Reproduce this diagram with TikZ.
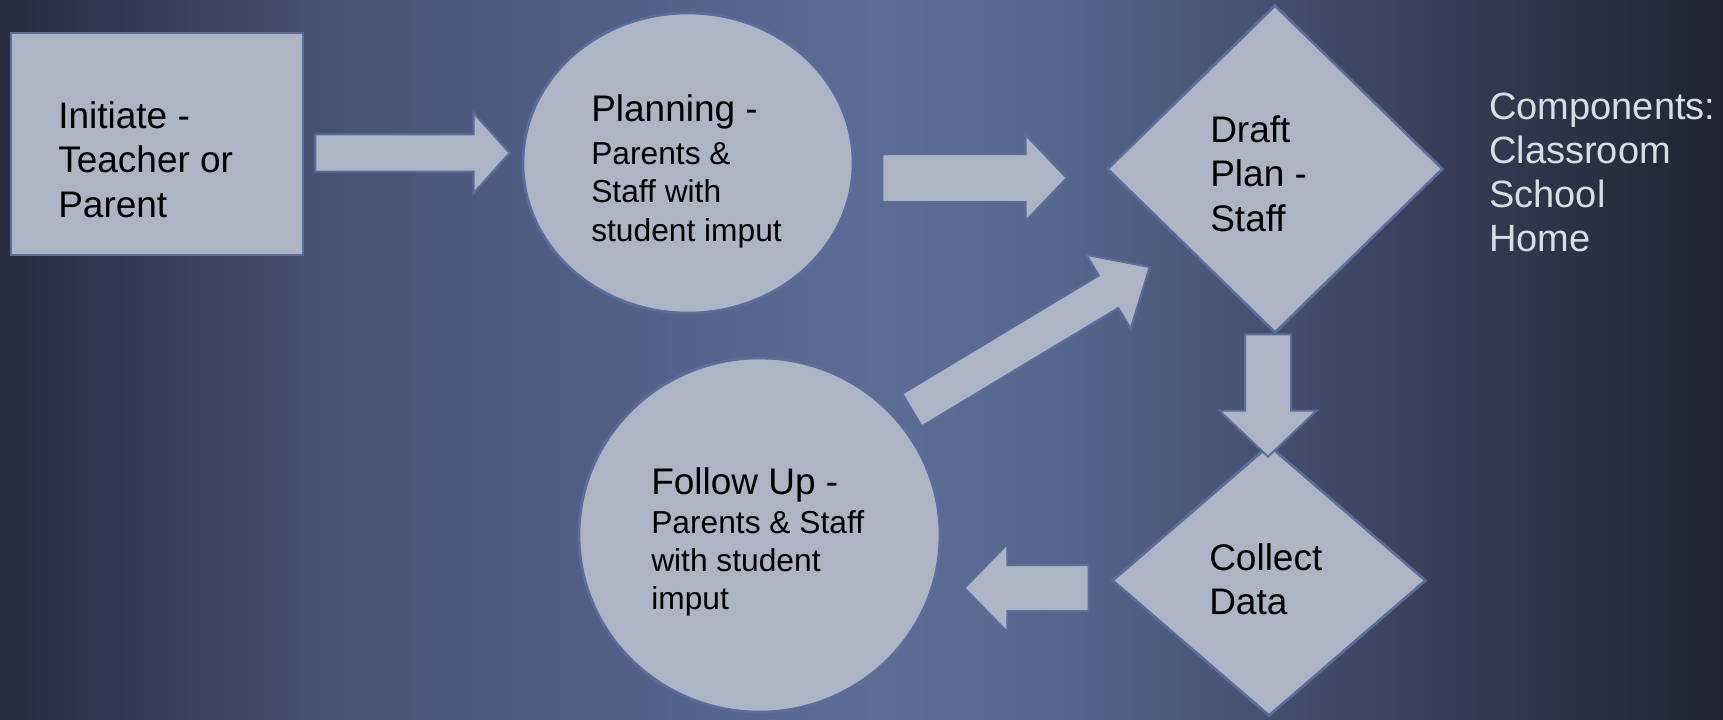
\documentclass[tikz,border=0pt]{standalone}
\usepackage{fontspec}
\setmainfont{Liberation Sans}
\usetikzlibrary{shapes.geometric}
\usetikzlibrary{calc}

\definecolor{bgedge}{RGB}{38,44,63}
\definecolor{bgleft}{RGB}{72,84,120}
\definecolor{bgcentre}{RGB}{92,108,149}
\definecolor{bgnear}{RGB}{86,102,142}
\definecolor{bgright}{RGB}{50,56,79}
\definecolor{bgfar}{RGB}{32,36,51}
\definecolor{shapefill}{RGB}{173,180,195}
\definecolor{shapeline}{RGB}{90,110,158}
\definecolor{notetext}{RGB}{217,221,228}

\pgfdeclarehorizontalshading{slidebg}{100bp}{color(0bp)=(bgedge); color(25bp)=(bgedge); color(35bp)=(bgleft); color(50.5bp)=(bgcentre); color(55.75bp)=(bgnear); color(68.5bp)=(bgright); color(75bp)=(bgfar); color(100bp)=(bgfar)}

\newcommand{\headfont}{\fontsize{27.75}{33.5}\selectfont}
\newcommand{\bodyfont}{\fontsize{23.8}{28.7}\selectfont}

% fat arrow from #1 to #2: shaft half width, head half width, head length
\newcommand{\blockarrow}[5]{%
  \coordinate (hb) at ($(#2)!#5!(#1)$);
  \draw [blockbody] ($(#1)!#3!90:(#2)$) -- ($(hb)!#3!-90:(#1)$) -- ($(hb)!#4!-90:(#1)$) -- (#2) -- ($(hb)!#4!90:(#1)$) -- ($(hb)!#3!90:(#1)$) -- ($(#1)!#3!-90:(#2)$) -- cycle ;
}

\begin{document}
\begin{tikzpicture}[x=0.75pt,y=0.75pt,yscale=-1,xscale=1,
  shapebox/.style={draw=shapeline, fill=shapefill, line width=2pt, inner sep=0pt},
  blockbody/.style={draw=shapeline, fill=shapefill, line width=1.5pt, line join=miter},
  bigtext/.style={anchor=north west, inner sep=0.75pt, align=left, font=\headfont},
  smalltext/.style={anchor=north west, inner sep=0.75pt, align=left, font=\bodyfont}]
\useasboundingbox (0,0) rectangle (1723,719);

%Background
\shade [shading=slidebg] (0,0) rectangle (1723,719);

%Shape: Rectangle
\node [shapebox, rectangle, minimum width=219pt, minimum height=166.5pt] (init) at (157,144) {};
%Shape: Ellipse
\node [shapebox, ellipse, minimum width=247.5pt, minimum height=225pt] (plan) at (688,163) {};
%Shape: Diamond
\node [shapebox, diamond, minimum width=252pt, minimum height=246pt] (draft) at (1275,169) {};
%Shape: Diamond
\node [shapebox, diamond, minimum width=235.5pt, minimum height=203.25pt] (collect) at (1269,580.5) {};
%Shape: Ellipse
\node [shapebox, ellipse, minimum width=270.75pt, minimum height=265.5pt] (follow) at (759.5,535) {};

%Right Arrow
\coordinate (a1s) at ([shift={(11,9)}]init.east);
\coordinate (a1e) at ([shift={(-12,-10)}]plan.west);
\blockarrow{a1s}{a1e}{13.9pt}{30pt}{27pt}
%Right Arrow
\coordinate (a2s) at ([shift={(28,15)}]plan.east);
\coordinate (a2e) at ([shift={(-39,9)}]draft.west);
\blockarrow{a2s}{a2e}{18pt}{32.25pt}{30.75pt}
%Down Arrow
\coordinate (a3s) at ([shift={(-7,0)}]draft.south);
\coordinate (a3e) at ([shift={(-1,13)}]collect.north);
\blockarrow{a3s}{a3e}{17.25pt}{36.4pt}{34.5pt}
%Left Arrow
\coordinate (a4s) at ([shift={(-22,7.5)}]collect.west);
\coordinate (a4e) at ([shift={(23,53)}]follow.east);
\blockarrow{a4s}{a4e}{17.25pt}{33pt}{32.25pt}
%Up Right Arrow
\coordinate (a5s) at ([shift={(152.5,-125)}]follow.center);
\coordinate (a5e) at ([shift={(44,98)}]draft.west);
\blockarrow{a5s}{a5e}{14.25pt}{32.25pt}{36pt}

% Text Node
\node [bigtext] (initlbl) at (57,100) {Initiate -\\Teacher or\\Parent};
% Text Node
\node [smalltext] (planlbl) at (590,93.5) {{\headfont Planning -}\\[3.5pt]Parents \&\\Staff with\\student imput};
% Text Node
\node [bigtext] (draftlbl) at (1209,114) {Draft\\Plan -\\Staff};
% Text Node
\node [bigtext] (collectlbl) at (1208,542) {Collect\\Data};
% Text Node
\node [smalltext] (followlbl) at (650,466) {{\headfont Follow Up -}\\[0.6pt]Parents \& Staff\\with student\\imput};
% Text Node
\node [bigtext, text=notetext, font=\fontsize{28.5}{33}\selectfont] (complbl) at (1488,92) {Components:\\Classroom\\School\\Home};

\end{tikzpicture}
\end{document}
